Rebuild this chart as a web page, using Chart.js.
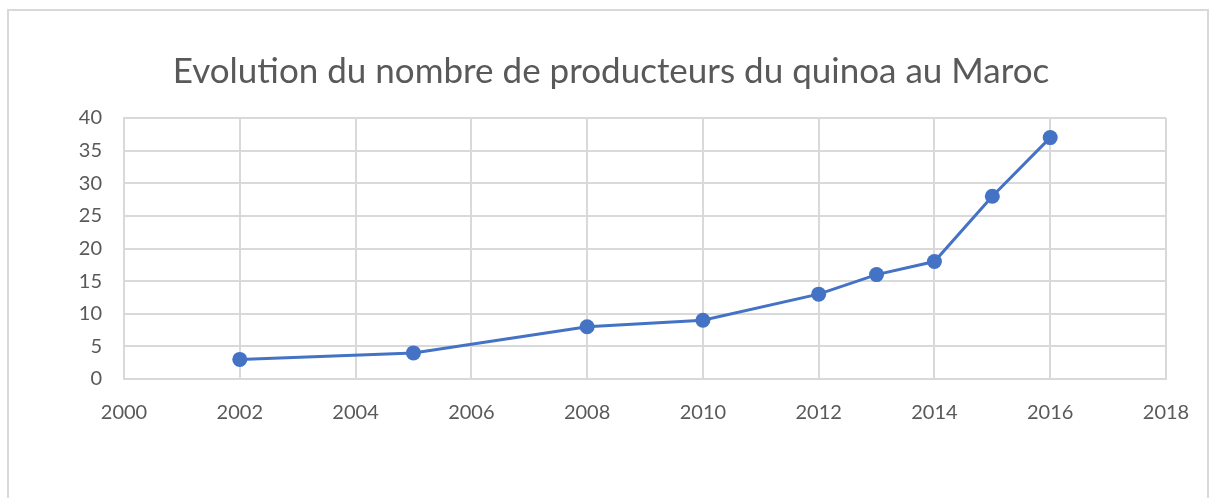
<!DOCTYPE html>
<html>
<head>
<meta charset="utf-8">
<script src="https://cdn.jsdelivr.net/npm/chart.js@4"></script>
<style>
  body { margin: 0; background: #fff; }
  #frame { position: absolute; left: 7px; top: 9px; width: 1202px; height: 520px; border: 2px solid #d9d9d9; box-sizing: border-box; }
  #wrap { position: absolute; left: 0; top: 0; width: 1217px; height: 498px; }
</style>
</head>
<body>
<div id="frame"></div>
<div id="wrap"><canvas id="quinoaChart" width="1217" height="498"></canvas></div>
<script>
// data
const years = [2002, 2005, 2008, 2010, 2012, 2013, 2014, 2015, 2016];
const producers = [3, 4, 8, 9, 13, 16, 18, 28, 37];
const titleText = "Evolution du nombre de producteurs du quinoa au Maroc";

const grey = "#595959";
const gridColor = "#d9d9d9";
const titleSize = 35;

const ctx = document.getElementById("quinoaChart").getContext("2d");
new Chart(ctx, {
  type: "line",
  data: {
    datasets: [{
      label: "Producteurs",
      data: years.map((y, i) => ({ x: y, y: producers[i] })),
      borderColor: "#4472C4",
      backgroundColor: "#4472C4",
      borderWidth: 3,
      pointRadius: 7.5,
      pointBorderWidth: 0,
      tension: 0
    }]
  },
  options: {
    responsive: false,
    animation: false,
    layout: { padding: { left: 5, right: 0, top: 0, bottom: 0 } },
    plugins: {
      legend: { display: false },
      tooltip: { enabled: false },
      title: {
        display: true,
        text: titleText,
        color: grey,
        font: { family: "Lato", size: titleSize, weight: "normal" },
        padding: { top: 72 - 0.6 * titleSize, bottom: 46 - 0.6 * titleSize }
      }
    },
    scales: {
      x: {
        type: "linear",
        min: 2000,
        max: 2018,
        ticks: { stepSize: 2, color: grey, font: { family: "Lato", size: 20 }, padding: 22, callback: v => String(v) },
        grid: { color: gridColor, lineWidth: 2, drawTicks: false },
        border: { color: gridColor, width: 2 },
        afterFit: s => { s.height = 119; s.paddingRight = 51; }
      },
      y: {
        min: 0,
        max: 40,
        ticks: { stepSize: 5, color: grey, font: { family: "Lato", size: 20 }, padding: 22 },
        grid: { color: gridColor, lineWidth: 2, drawTicks: false },
        border: { color: gridColor, width: 2 },
        afterFit: s => { s.width = 119; }
      }
    }
  }
});
</script>
</body>
</html>
